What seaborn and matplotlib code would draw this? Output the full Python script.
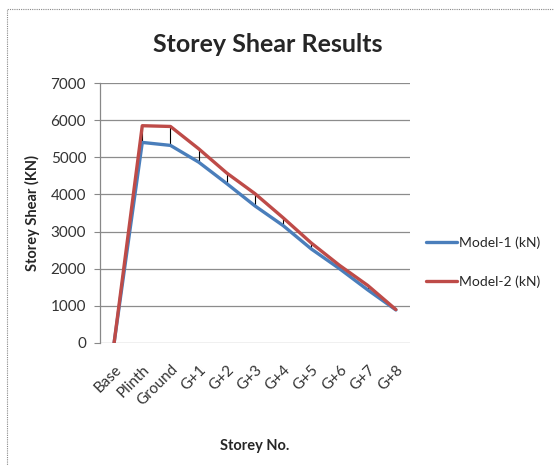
import pandas as pd
import matplotlib.pyplot as plt
import seaborn as sns
from matplotlib.patches import Rectangle

# data
storeys = ['Base', 'Plinth', 'Ground', 'G+1', 'G+2', 'G+3', 'G+4',
           'G+5', 'G+6', 'G+7', 'G+8']
model_1 = [0, 5400, 5320, 4870, 4290, 3690, 3160, 2530, 2000, 1430, 890]
model_2 = [0, 5850, 5830, 5230, 4575, 4020, 3370, 2690, 2090, 1550, 900]
yticks = [0, 1000, 2000, 3000, 4000, 5000, 6000, 7000]

df = pd.DataFrame({'pos': range(len(storeys)), 'Storey': storeys,
                   'Model-1 (kN)': model_1, 'Model-2 (kN)': model_2})
long = df.melt(id_vars=['pos', 'Storey'], var_name='Model', value_name='Shear')

sns.set_theme(style='white')
plt.rcParams['font.family'] = ['Lato', 'DejaVu Sans']

fig = plt.figure(figsize=(5.54, 4.65), dpi=100)
ax = fig.add_axes([100 / 554, 122 / 465, 310 / 554, 260 / 465])

# high-low lines between the two series
ax.vlines(df['pos'][1:], df['Model-1 (kN)'][1:], df['Model-2 (kN)'][1:],
          color='black', lw=0.8, zorder=2)

sns.lineplot(data=long, x='pos', y='Shear', hue='Model',
             palette=['#4A7EBB', '#BE4B48'], linewidth=2.4, ax=ax,
             legend=False, zorder=3)

ax.set_xlim(-0.5, len(storeys) - 0.5)
ax.set_ylim(0, 7000)
ax.set_yticks(yticks)
ax.set_yticklabels([str(v) for v in yticks], fontsize=11, color='#333333')
ax.set_xticks(df['pos'])
ax.set_xticklabels(storeys, rotation=45, ha='right', rotation_mode='anchor',
                   fontsize=11, color='#333333')
ax.tick_params(axis='y', length=4, width=0.8, color='#888888', left=True, pad=6)
ax.tick_params(axis='x', length=0, pad=14)
ax.yaxis.grid(True, color='#8c8c8c', lw=0.9)
for s in ['top', 'right', 'bottom']:
    ax.spines[s].set_visible(False)
ax.spines['left'].set_color('#888888')
ax.spines['left'].set_linewidth(0.9)

ax.set_xlabel('Storey No.', fontsize=10.5, fontweight='bold', labelpad=22)
ax.set_ylabel('Storey Shear (KN)', fontsize=10.5, fontweight='bold', labelpad=8)
fig.suptitle('Storey Shear Results', fontsize=18, fontweight='bold',
             x=268 / 554, y=1 - 45 / 465, va='center')

handles = [plt.Line2D([], [], color='#4A7EBB', lw=2.4),
           plt.Line2D([], [], color='#BE4B48', lw=2.4)]
fig.legend(handles, ['Model-1 (kN)', 'Model-2 (kN)'], loc='center left',
           bbox_to_anchor=(426 / 554, 1 - 262 / 465), frameon=False,
           fontsize=10, labelspacing=1.9, handlelength=2.2, handletextpad=0.2,
           borderpad=0, borderaxespad=0)

# dotted outer frame of the chart area
fig.patches.append(Rectangle((7 / 554, -0.05), 1.0, 1 - 9 / 465 + 0.05,
                             transform=fig.transFigure, fill=False,
                             ls=(0, (1, 1)), lw=0.8, ec='#888888'))

fig.savefig('out.png', dpi=100)
